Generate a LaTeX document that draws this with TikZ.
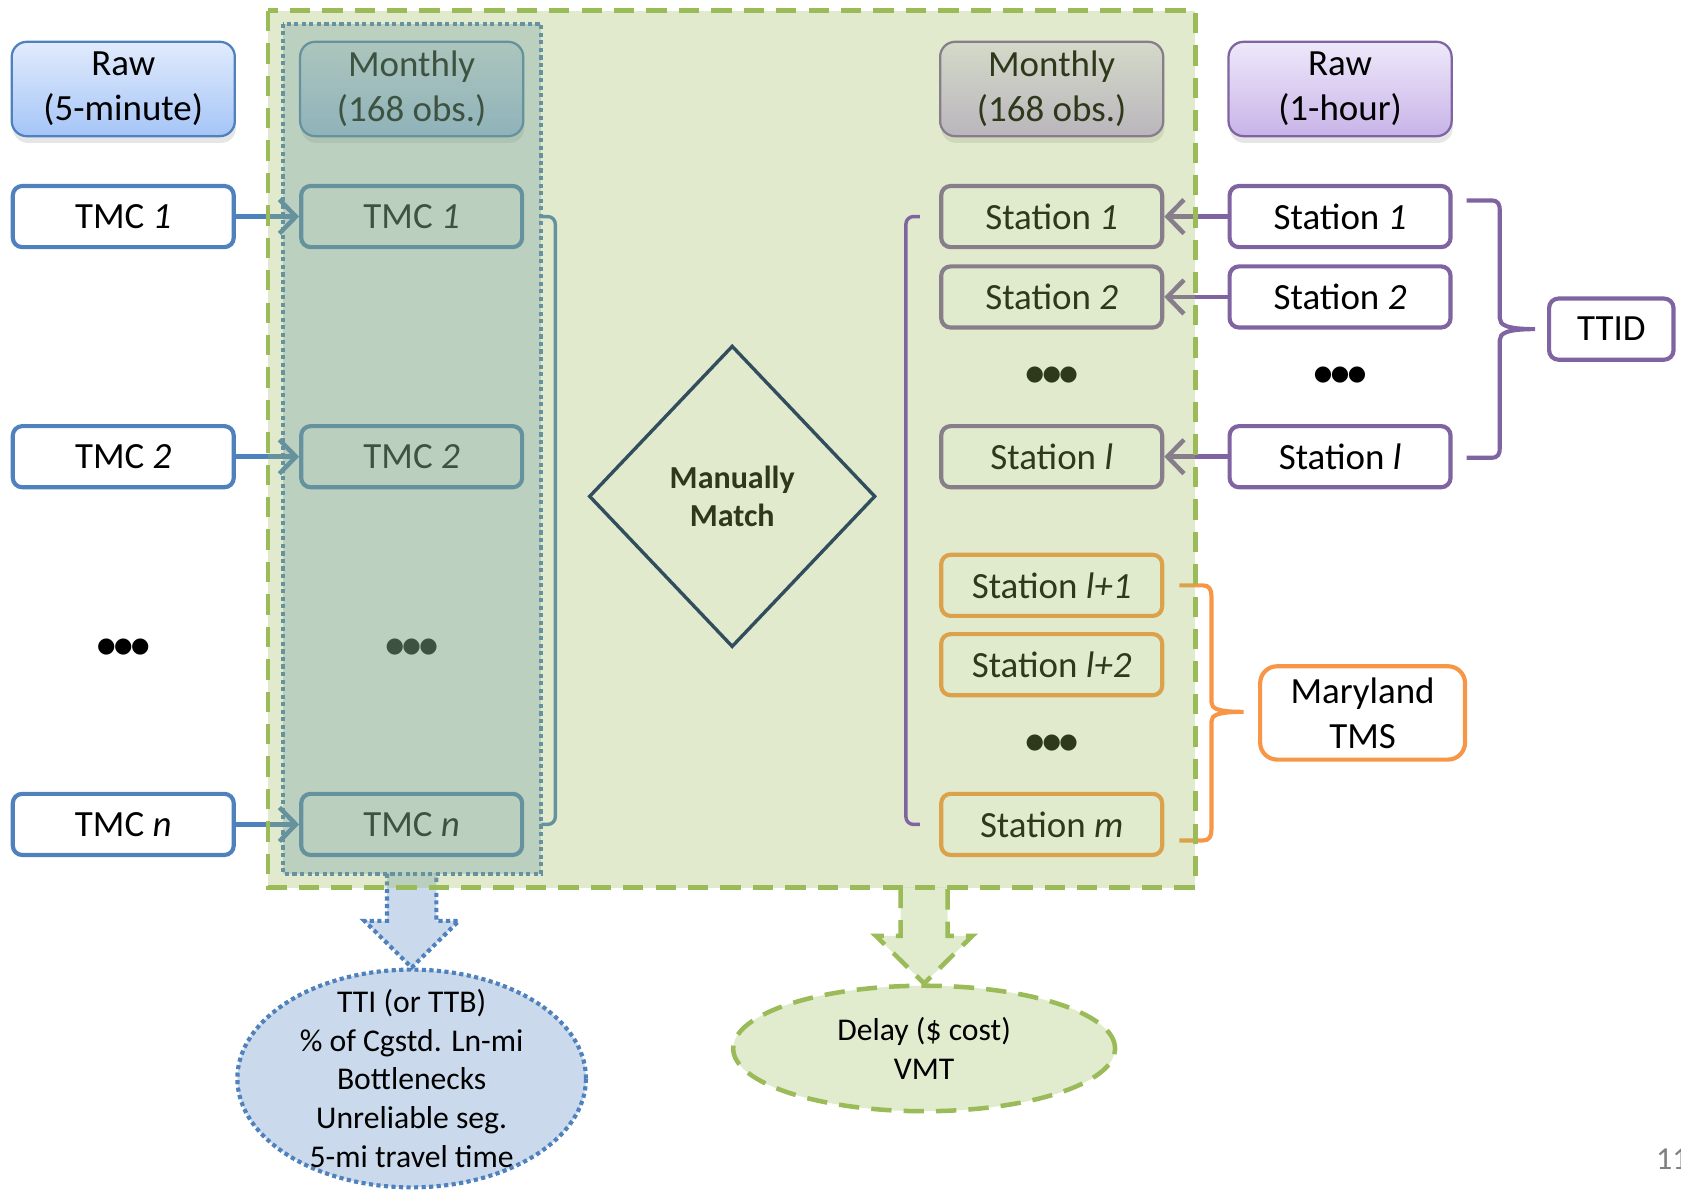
\documentclass[tikz,border=0pt]{standalone}
\usepackage{fontspec}
\setmainfont{Carlito}
\newfontfamily\dotfont{DejaVu Sans}
\usetikzlibrary{arrows.meta,positioning,calc,shapes.geometric,shadows}

\definecolor{tmcblue}{RGB}{79,129,189}
\definecolor{stpurple}{RGB}{128,100,162}
\definecolor{tmsorange}{RGB}{247,150,70}
\definecolor{regiongreen}{RGB}{155,187,89}
\definecolor{matchnavy}{RGB}{5,30,95}

\begin{document}
\begin{tikzpicture}[
    x=0.01cm, y=-0.01cm,
    every node/.style={font=\fontsize{9.8}{12}\selectfont},
    box/.style={rectangle, draw, line width=1.1pt, fill=white, rounded corners=2.5pt, minimum width=2.06cm, minimum height=0.57cm, inner sep=0pt, align=center},
    tmcbox/.style={box, draw=tmcblue},
    stbox/.style={box, draw=stpurple},
    tmsbox/.style={box, draw=tmsorange},
    header/.style={rectangle, rounded corners=4pt, line width=0.6pt, minimum width=2.08cm, minimum height=0.88cm, inner sep=0pt, align=center, drop shadow={shadow xshift=0.3pt, shadow yshift=-1.8pt, opacity=0.2}},
    blueheader/.style={header, draw=tmcblue, top color={rgb,255:red,225;green,235;blue,252}, bottom color={rgb,255:red,165;green,197;blue,247}},
    purpleheader/.style={header, draw=stpurple, top color={rgb,255:red,238;green,232;blue,250}, bottom color={rgb,255:red,200;green,180;blue,232}},
    dots/.style={inner sep=0pt, font=\dotfont\fontsize{5.6}{7}\selectfont},
    tmcarrow/.style={draw=tmcblue, line width=1.2pt, -{Straight Barb[length=4.4pt, width=9pt]}},
    starrow/.style={draw=stpurple, line width=1.2pt, -{Straight Barb[length=4.4pt, width=9pt]}},
    bracket/.style={line width=0.9pt, rounded corners=2pt},
    bracebar/.style={line width=1.1pt},
    match/.style={diamond, draw=matchnavy, line width=0.9pt, minimum width=2.67cm, minimum height=2.81cm, inner sep=0pt, align=center, font=\bfseries\fontsize{8.5}{10}\selectfont},
    dotline/.style={dash pattern=on 1.1pt off 0.9pt},
    dashline/.style={dash pattern=on 5.4pt off 3.2pt},
    column/.style={draw=tmcblue, fill=tmcblue, fill opacity=0.3, line width=1.1pt, dotline},
    region/.style={draw=regiongreen, fill=regiongreen, fill opacity=0.3, line width=1.2pt, dashline},
    tmcresult/.style={ellipse, draw=tmcblue, fill=tmcblue!30, line width=1.1pt, dotline, minimum width=3.25cm, minimum height=2.03cm, inner xsep=0pt, inner ysep=-0.2cm, align=center, font=\fontsize{8.4}{10.25}\selectfont},
    regionresult/.style={ellipse, draw=regiongreen, fill=regiongreen!30, line width=1.2pt, dashline, minimum width=3.56cm, minimum height=1.17cm, inner sep=0pt, align=center, font=\fontsize{8.4}{10.25}\selectfont}
]
\useasboundingbox (0,0) rectangle (1568,1112);

% Headers
\node[blueheader] (rawtmc) at (115,83) {Raw\\(5-minute)};
\node[blueheader] (montmc) at (384,83) {Monthly\\(168 obs.)};
\node[purpleheader] (monst) at (981,83) {Monthly\\(168 obs.)};
\node[purpleheader] (rawst) at (1250,83) {Raw\\(1-hour)};

% TMC segments
\node[tmcbox] (r1) at (115,202) {TMC \textit{1}};
\node[tmcbox] (r2) at (115,426) {TMC \textit{2}};
\node[dots] (rdots) at (115,604) {●\kern-0.4pt●\kern-0.4pt●};
\node[tmcbox] (rn) at (115,769) {TMC \textit{n}};

\node[tmcbox] (m1) at (384,202) {TMC \textit{1}};
\node[tmcbox] (m2) at (384,426) {TMC \textit{2}};
\node[dots] (mdots) at (384,604) {●\kern-0.4pt●\kern-0.4pt●};
\node[tmcbox] (mn) at (384,769) {TMC \textit{n}};

\draw[tmcarrow] (r1) -- (m1);
\draw[tmcarrow] (r2) -- (m2);
\draw[tmcarrow] (rn) -- (mn);
\draw[bracket, tmcblue] ($(m1.east)+(16,0)$) -- ++(13,0) |- ($(mn.east)+(16,0)$);

% Matching
\node[match] (match) at (683,463) {Manually\\Match};

% Stations
\node[stbox] (ms1) at (981,202) {Station \textit{1}};
\node[stbox] (ms2) at (981,277) {Station \textit{2}};
\node[dots] (msdots) at (981,350) {●\kern-0.4pt●\kern-0.4pt●};
\node[stbox] (msl) at (981,426) {Station \textit{l}};
\node[tmsbox] (msl1) at (981,546) {Station \textit{l+1}};
\node[tmsbox] (msl2) at (981,620) {Station \textit{l+2}};
\node[dots] (mtdots) at (981,693) {●\kern-0.4pt●\kern-0.4pt●};
\node[tmsbox] (msm) at (981,769) {Station \textit{m}};

\node[stbox] (rs1) at (1250,202) {Station \textit{1}};
\node[stbox] (rs2) at (1250,277) {Station \textit{2}};
\node[dots] (rsdots) at (1250,350) {●\kern-0.4pt●\kern-0.4pt●};
\node[stbox] (rsl) at (1250,426) {Station \textit{l}};

\draw[starrow] (rs1) -- (ms1);
\draw[starrow] (rs2) -- (ms2);
\draw[starrow] (rsl) -- (msl);

% Sources
\node[stbox, minimum width=1.16cm] (ttid) at (1503,307) {TTID};
\node[tmsbox, minimum width=1.91cm, minimum height=0.87cm, rounded corners=4.5pt] (tms) at (1271,665) {Maryland\\TMS};
\draw[bracebar, stpurple] (1368,187) -- (1391,187) .. controls (1398,187) and (1399,191) .. (1399,197) -- (1399,297)
    .. controls (1399,303) and (1405,307) .. (1432,307) .. controls (1405,307) and (1399,311) .. (1399,317)
    -- (1399,417) .. controls (1399,423) and (1398,427) .. (1391,427) -- (1368,427);
\draw[bracebar, tmsorange] (1100,546) -- (1122,546) .. controls (1128,546) and (1130,550) .. (1130,556) -- (1130,655)
    .. controls (1130,661) and (1136,664) .. (1160,664) .. controls (1136,664) and (1130,667) .. (1130,673)
    -- (1130,774) .. controls (1130,780) and (1128,784) .. (1122,784) -- (1100,784);

% Outputs
\node[tmcresult] (tti) at (384,1006) {TTI (or TTB)\\\% of Cgstd. Ln-mi\\Bottlenecks\\Unreliable seg.\\5-mi travel time};
\node[regionresult] (delay) at (862,978) {Delay (\$ cost)\\VMT};
\path[draw=tmcblue, fill=tmcblue!30, line width=1.1pt, dotline] (361,815) -- (361,859) -- (340,859) -- (tti.north) -- (428,859) -- (407,859) -- (407,815);
\path[draw=regiongreen, fill=regiongreen!30, line width=1.2pt, dashline] (840,828) -- (840,873) -- (817,873) -- (delay.north) -- (907,873) -- (884,873) -- (884,828);

% Overlays
\draw[column] (264,22) rectangle (505,815);
\draw[region] (250,10) rectangle (1115,828);
\draw[bracket, stpurple] ($(ms1.west)+(-18,0)$) -- ++(-13,0) |- ($(msm.west)+(-18,0)$);

\node[text=gray, anchor=west, inner sep=0pt, font=\fontsize{8.5}{10}\selectfont] (pagenum) at (1544,1081) {11};
\end{tikzpicture}
\end{document}
